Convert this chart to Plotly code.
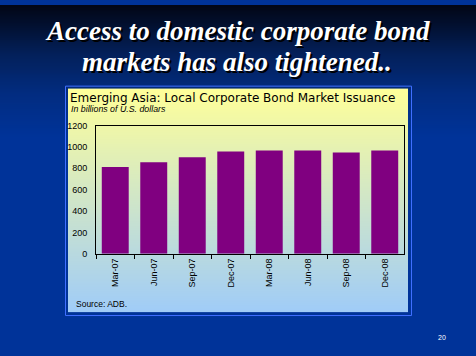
import base64
import struct
import zlib

import plotly.graph_objects as go

# ---- data ----
categories = ["Mar-07", "Jun-07", "Sep-07", "Dec-07", "Mar-08", "Jun-08", "Sep-08", "Dec-08"]
issuance = [812, 857, 903, 957, 966, 966, 948, 966]
y_ticks = [0, 200, 400, 600, 800, 1000, 1200]
y_tick_labels = ["0", "200", "400", "600", "800", "1000", "1200"]

W, H = 476, 356


def px(x):
    return x / W


def py(y):
    return 1 - y / H


def lerp(c1, c2, t):
    return tuple(round(a + (b - a) * t) for a, b in zip(c1, c2))


def gradient_png(colors):
    """1-pixel-wide vertical gradient PNG as data URI."""
    raw = b"".join(b"\x00" + bytes(c) for c in colors)

    def chunk(tag, data):
        c = struct.pack(">I", len(data)) + tag + data
        return c + struct.pack(">I", zlib.crc32(tag + data) & 0xFFFFFFFF)

    png = b"\x89PNG\r\n\x1a\n"
    png += chunk(b"IHDR", struct.pack(">IIBBBBB", 1, len(colors), 8, 2, 0, 0, 0))
    png += chunk(b"IDAT", zlib.compress(raw))
    png += chunk(b"IEND", b"")
    return "data:image/png;base64," + base64.b64encode(png).decode()


# slide background gradient (dark navy at top -> blue)
bg_stops = [(0, (2, 6, 22)), (20, (2, 16, 48)), (50, (3, 32, 90)), (90, (2, 44, 128)),
            (135, (0, 51, 153)), (356, (0, 51, 153))]
bg_cols = []
for y in range(H):
    for (ya, ca), (yb, cb) in zip(bg_stops[:-1], bg_stops[1:]):
        if ya <= y <= yb:
            bg_cols.append(lerp(ca, cb, (y - ya) / (yb - ya)))
            break

# chart panel gradient (pale yellow -> light blue)
top, bot = 86, 316
yellow, blue = (255, 255, 153), (160, 204, 248)
panel_cols = [lerp(yellow, blue, i / (bot - top - 1)) for i in range(bot - top)]

images = [
    dict(source=gradient_png(bg_cols), xref="paper", yref="paper", x=0, y=1, sizex=1, sizey=1,
         xanchor="left", yanchor="top", sizing="stretch", layer="below"),
    dict(source=gradient_png(panel_cols), xref="paper", yref="paper", x=px(68), y=py(top),
         sizex=px(408) - px(68), sizey=(bot - top) / H,
         xanchor="left", yanchor="top", sizing="stretch", layer="below"),
]

shapes = [
    dict(type="rect", xref="paper", yref="paper", x0=px(65.5), x1=px(411.5),
         y0=py(319.5), y1=py(83.5), line=dict(color="#3f6fff", width=1), layer="below"),
]

fig = go.Figure(go.Bar(x=categories, y=issuance, marker=dict(color="#800080", line_width=0),
                       hoverinfo="skip"))

title_font = dict(family="Liberation Serif", size=27, color="white", shadow="2px 2px 0px black")
annotations = [
    dict(text="<b><i>Access to domestic corporate bond</i></b>", x=px(237), y=py(27), font=title_font),
    dict(text="<b><i>markets has also tightened..</i></b>", x=px(237), y=py(59), font=title_font),
    dict(text="Emerging Asia: Local Corporate Bond Market Issuance", x=px(67.5), y=py(95.5),
         xanchor="left", font=dict(family="DejaVu Sans", size=12, color="black")),
    dict(text="<i>In billions of U.S. dollars</i>", x=px(69), y=py(106.5), xanchor="left",
         font=dict(family="Liberation Sans", size=8.8, color="black")),
    dict(text="Source: ADB.", x=px(74), y=py(307.5), xanchor="left",
         font=dict(family="Liberation Sans", size=8.5, color="black")),
    dict(text="20", x=px(442), y=py(342), font=dict(family="Liberation Sans", size=7, color="white")),
]
for a in annotations:
    a.setdefault("xanchor", "center")
    a.update(xref="paper", yref="paper", showarrow=False, yanchor="middle")

fig.update_layout(
    width=W, height=H,
    margin=dict(l=0, r=0, t=0, b=0),
    paper_bgcolor="#003399", plot_bgcolor="rgba(0,0,0,0)",
    showlegend=False, bargap=0.3,
    images=images, shapes=shapes, annotations=annotations,
    xaxis=dict(domain=[px(96), px(404)], range=[-0.5, 7.5], type="category",
               showline=True, linecolor="black", linewidth=1, mirror=True,
               ticks="outside", tickson="boundaries", ticklen=4, tickcolor="black",
               tickangle=-90, showgrid=False,
               tickfont=dict(family="Liberation Sans", size=9, color="black")),
    yaxis=dict(domain=[py(256), py(124)], range=[0, 1200], tickvals=y_ticks, ticktext=y_tick_labels,
               showline=True, linecolor="black", linewidth=1, mirror=True,
               ticks="", showgrid=False, zeroline=False, ticklabelstandoff=6,
               tickfont=dict(family="Liberation Sans", size=9, color="black")),
)

fig.write_html("out.html", config={"displayModeBar": False},
               post_script="document.body.style.margin='0';")
